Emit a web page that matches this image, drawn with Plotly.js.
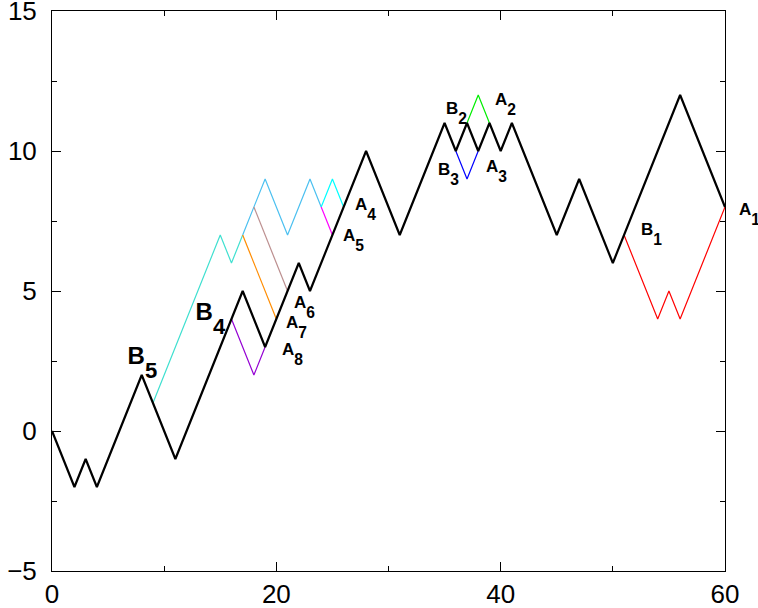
<!DOCTYPE html>
<html>
<head>
<meta charset="utf-8">
<script src="https://cdn.plot.ly/plotly-3.0.1.min.js"></script>
<style>html,body{margin:0;padding:0;background:#fff;}#chart{width:758px;height:608px;}</style>
</head>
<body>
<div id="chart"></div>
<script>
// main walk
const mainX = [0,2,3,4,8,11,17,19,22,23,28,31,35,36,37,38,39,40,41,45,47,50,56,60];
const mainY = [0,-2,-1,-2,2,-1,5,3,6,5,10,7,11,10,11,10,11,10,11,7,9,6,12,8];
// reflected / alternative paths
const redX = [51,54,55,56,60],   redY = [7,4,5,4,8];
const greenX = [37,38,39],       greenY = [11,12,11];
const blueX = [36,37,38],        blueY = [10,9,10];
const turqX = [9,15,16,17],      turqY = [1,7,6,7];
const skyX = [17,19,21,23,24],   skyY = [7,9,7,9,8];
const cyanX = [24,25,26],        cyanY = [8,9,8];
const magX = [24,25],            magY = [8,7];
const brownX = [18,21],          brownY = [8,5];
const orangeX = [17,20],         orangeY = [7,4];
const purpleX = [16,18,19],      purpleY = [4,2,3];
// labels
const labelText = ['B<sub>5</sub>','B<sub>4</sub>','A<sub>8</sub>','A<sub>7</sub>','A<sub>6</sub>','A<sub>5</sub>','A<sub>4</sub>','B<sub>3</sub>','A<sub>3</sub>','B<sub>2</sub>','A<sub>2</sub>','B<sub>1</sub>','A<sub>1</sub>'];
const labelX = [6.69,12.75,20.42,20.77,21.49,25.85,26.92,34.32,38.6,35.04,39.4,52.42,60];
const labelY = [2.64,4.21,2.86,3.82,4.54,6.93,8.02,9.29,9.41,11.46,11.79,7.14,7.86];
// axis ticks
const xTicks = [0,20,40,60], xMinor = [10,30,50];
const yTicks = [-5,0,5,10,15], yMinor = [-2.5,2.5,7.5,12.5];

const thin = [
  [redX, redY, '#ff0000'],
  [greenX, greenY, '#00ee00'],
  [blueX, blueY, '#0000ff'],
  [turqX, turqY, '#40e0d0'],
  [skyX, skyY, '#4cc0f0'],
  [cyanX, cyanY, '#00ffff'],
  [magX, magY, '#ff00ff'],
  [brownX, brownY, '#bc8f8f'],
  [orangeX, orangeY, '#ff8c00'],
  [purpleX, purpleY, '#9400d3']
];
const traces = thin.map(t => ({x: t[0], y: t[1], mode: 'lines', type: 'scatter',
  line: {color: t[2], width: 1.2}, hoverinfo: 'skip'}));
traces.push({x: mainX, y: mainY, mode: 'lines', type: 'scatter',
  line: {color: '#000', width: 2.2}, hoverinfo: 'skip'});

const font = 'Liberation Sans, Arial, Helvetica, sans-serif';
const annotations = labelText.map((t, i) => ({
  x: labelX[i], y: labelY[i], xref: 'x', yref: 'y', text: t, showarrow: false,
  xanchor: 'left', yanchor: 'middle', xshift: i === 12 ? 13 : 0,
  font: {family: font, size: i < 2 ? 24 : 17, color: '#000', weight: 'bold'}
}));

const axisCommon = {
  showgrid: false, zeroline: false, showline: true, linecolor: '#000', linewidth: 1,
  mirror: 'allticks', ticks: 'inside', tickcolor: '#000', tickwidth: 1,
  ticklabeloverflow: 'allow',
  tickfont: {family: font, size: 26, color: '#000'}
};
const layout = {
  width: 758, height: 608,
  margin: {l: 52, r: 33, t: 11, b: 37},
  paper_bgcolor: '#fff', plot_bgcolor: '#fff',
  showlegend: false,
  xaxis: Object.assign({}, axisCommon, {range: [0, 60], tickvals: xTicks, ticklen: 9,
    minor: {tickvals: xMinor, ticklen: 5, ticks: 'inside', tickcolor: '#000'}}),
  yaxis: Object.assign({}, axisCommon, {range: [-5, 15], tickvals: yTicks, ticklen: 9,
    ticklabelstandoff: 9,
    minor: {tickvals: yMinor, ticklen: 5, ticks: 'inside', tickcolor: '#000'}}),
  annotations: annotations
};
Plotly.newPlot('chart', traces, layout, {staticPlot: true}).then(gd => {
  gd.querySelectorAll('.annotation-text tspan').forEach(ts => {
    if (ts.getAttribute('dy') === '0.3em') {
      ts.setAttribute('dy', '0.65em');
      ts.style.fontSize = '92%';
    }
  });
});
</script>
</body>
</html>
